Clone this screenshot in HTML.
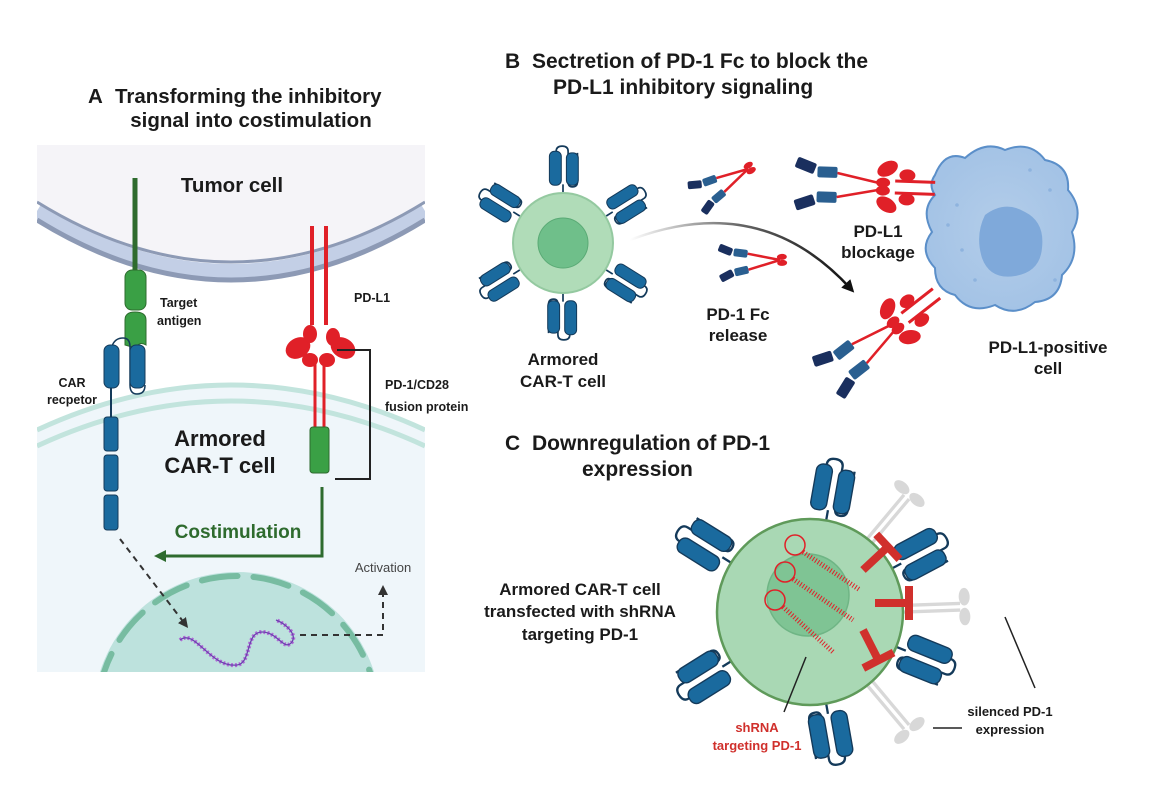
<!DOCTYPE html>
<html><head><meta charset="utf-8"><style>
html,body{margin:0;padding:0;background:#fff;overflow:hidden;width:1154px;height:787px}
svg{display:block}
text{font-family:"Liberation Sans",Arial,sans-serif;font-weight:bold;fill:#1a1a1a}
</style></head><body>
<svg width="1154" height="787" viewBox="0 0 1154 787" xmlns="http://www.w3.org/2000/svg">
<defs>
<clipPath id="clipA"><rect x="37" y="145" width="388" height="527"/></clipPath>
<g id="car">
  <line x1="0" y1="0" x2="0" y2="-9" stroke="#143a5a" stroke-width="2"/>
  <path d="M-8,-9 L-8,-48 Q-8,-54 -1,-54 Q6,-54 6,-48 L6,-12 Q6,-6 11,-6 Q17,-6 17,-12 L17,-46" fill="none" stroke="#143a5a" stroke-width="2"/>
  <rect x="-16" y="-48" width="14" height="40" rx="6" fill="#1a6a9e" stroke="#143a5a" stroke-width="1.2"/>
  <rect x="4" y="-46" width="14" height="38" rx="6" fill="#1a6a9e" stroke="#143a5a" stroke-width="1.2"/>
</g>
<g id="pd1g" fill="#d8d8d8" stroke="#d8d8d8">
  <line x1="-3" y1="0" x2="-3" y2="-52" stroke-width="3"/>
  <line x1="3" y1="0" x2="3" y2="-52" stroke-width="3"/>
  <ellipse cx="-9" cy="-56" rx="8" ry="5" stroke="none"/>
  <ellipse cx="9" cy="-56" rx="8" ry="5" stroke="none"/>
</g>
<g id="tbar" fill="#d0302c">
  <rect x="-4" y="-32" width="8" height="32"/>
  <rect x="-17" y="-38" width="34" height="8"/>
</g>
<g id="fc">
  <line x1="0" y1="0" x2="-32" y2="-8" stroke="#e02028" stroke-width="2.5"/>
  <line x1="0" y1="0" x2="-32" y2="8" stroke="#e02028" stroke-width="2.5"/>
  <ellipse cx="2" cy="-3" rx="5" ry="3" fill="#e02028"/>
  <ellipse cx="2" cy="3" rx="5" ry="3" fill="#e02028"/>
  <rect x="-46" y="-13" width="14" height="8" rx="2" fill="#2a5f90" transform="rotate(10 -39 -9)"/>
  <rect x="-46" y="5" width="14" height="8" rx="2" fill="#2a5f90" transform="rotate(-10 -39 9)"/>
  <rect x="-61" y="-17" width="14" height="8" rx="2" fill="#1a2f5e" transform="rotate(25 -54 -13)"/>
  <rect x="-61" y="9" width="14" height="8" rx="2" fill="#1a2f5e" transform="rotate(-25 -54 13)"/>
</g>
<g id="blk">
  <line x1="0" y1="-6" x2="40" y2="-6" stroke="#e02028" stroke-width="3"/>
  <line x1="0" y1="6" x2="40" y2="6" stroke="#e02028" stroke-width="3"/>
  <ellipse cx="-8" cy="-18" rx="11" ry="7" fill="#e02028" transform="rotate(-30 -8 -18)"/>
  <ellipse cx="-8" cy="18" rx="11" ry="7" fill="#e02028" transform="rotate(30 -8 18)"/>
  <ellipse cx="12" cy="-12" rx="8" ry="6" fill="#e02028"/>
  <ellipse cx="12" cy="12" rx="8" ry="6" fill="#e02028"/>
  <ellipse cx="-12" cy="-4" rx="7" ry="5" fill="#e02028"/>
  <ellipse cx="-12" cy="4" rx="7" ry="5" fill="#e02028"/>
  <line x1="-14" y1="-3" x2="-58" y2="-12" stroke="#e02028" stroke-width="2.5"/>
  <line x1="-14" y1="3" x2="-58" y2="12" stroke="#e02028" stroke-width="2.5"/>
  <rect x="-78" y="-18" width="20" height="11" rx="2" fill="#2a5f90"/>
  <rect x="-78" y="7" width="20" height="11" rx="2" fill="#2a5f90"/>
  <rect x="-100" y="-24" width="20" height="11" rx="2" fill="#1a2f5e" transform="rotate(20 -90 -18)"/>
  <rect x="-100" y="13" width="20" height="11" rx="2" fill="#1a2f5e" transform="rotate(-20 -90 18)"/>
</g>
<marker id="ah" viewBox="0 0 10 10" refX="5" refY="5" markerWidth="5" markerHeight="5" orient="auto"><path d="M0,0 L10,5 L0,10 z" fill="#333"/></marker>
<marker id="ahg" viewBox="0 0 10 10" refX="5" refY="5" markerWidth="4" markerHeight="4" orient="auto"><path d="M0,0 L10,5 L0,10 z" fill="#2e6b2e"/></marker>
<marker id="ahk" viewBox="0 0 10 10" refX="5" refY="5" markerWidth="5" markerHeight="5" orient="auto"><path d="M0,0 L10,5 L0,10 z" fill="#111"/></marker>
<linearGradient id="arrg" x1="0" x2="1"><stop offset="0" stop-color="#fff"/><stop offset="0.5" stop-color="#666"/><stop offset="1" stop-color="#111"/></linearGradient>
<radialGradient id="blobg"><stop offset="0" stop-color="#b3cde9"/><stop offset="1" stop-color="#a4c3e6"/></radialGradient>
</defs>

<!-- Panel A -->
<text x="88" y="103" font-size="20.5">A</text>
<text x="115" y="103" font-size="20.5">Transforming the inhibitory</text>
<text x="251" y="127" font-size="20.5" text-anchor="middle">signal into costimulation</text>
<g clip-path="url(#clipA)">
  <rect x="37" y="145" width="388" height="527" fill="#f5f4f8"/>
  <path d="M37,202 Q231,322 425,202 L425,700 L37,700 z" fill="#ffffff"/>
  <path d="M37,211 Q231,331 425,211" fill="none" stroke="#c3cfe6" stroke-width="14"/>
  <path d="M37,202 Q231,322 425,202" fill="none" stroke="#8d9ab5" stroke-width="3"/>
  <path d="M37,220 Q231,340 425,220" fill="none" stroke="#8d9ab5" stroke-width="5"/>
  <path d="M37,430 Q231,340 425,430 L425,700 L37,700 z" fill="#eff6fa"/>
  <path d="M37,430 Q231,340 425,430" fill="none" stroke="#c2e4dd" stroke-width="5"/>
  <path d="M37,446 Q231,356 425,446" fill="none" stroke="#c2e4dd" stroke-width="5"/>
  <circle cx="237" cy="716" r="144" fill="#bde2dd"/>
  <circle cx="237" cy="716" r="140" fill="none" stroke="#6fb89a" stroke-width="6" stroke-dasharray="36 16" stroke-linecap="round" opacity="0.9"/>
</g>
<text x="232" y="192" font-size="20.5" text-anchor="middle">Tumor cell</text>
<!-- antigen -->
<line x1="135" y1="178" x2="135" y2="270" stroke="#2e6b2e" stroke-width="5"/>
<rect x="125" y="270" width="21" height="40" rx="7" fill="#3aa045" stroke="#2e6b2e" stroke-width="1"/>
<path d="M125,345 L125,320 Q125,312 135,312 Q146,312 146,320 L146,345 Q139,341 136,348 Z" fill="#3aa045" stroke="#2e6b2e" stroke-width="1"/>
<!-- CAR A -->
<path d="M112,346 Q115,338 123,338 Q130,338 130,347 L130,385 Q130,394 137,394 Q145,394 145,385" fill="none" stroke="#143a5a" stroke-width="1.5"/>
<rect x="104" y="345" width="15" height="43" rx="6" fill="#1a6a9e" stroke="#143a5a"/>
<rect x="130" y="345" width="15" height="43" rx="6" fill="#1a6a9e" stroke="#143a5a"/>
<line x1="111" y1="388" x2="111" y2="417" stroke="#143a5a" stroke-width="2"/>
<rect x="104" y="417" width="14" height="34" rx="3" fill="#1a6a9e" stroke="#143a5a"/>
<rect x="104" y="455" width="14" height="36" rx="3" fill="#1a6a9e" stroke="#143a5a"/>
<rect x="104" y="495" width="14" height="35" rx="3" fill="#1a6a9e" stroke="#143a5a"/>
<text x="160" y="307" font-size="12.5">Target</text>
<text x="157" y="325" font-size="12.5">antigen</text>
<text x="72" y="387" font-size="12.5" text-anchor="middle">CAR</text>
<text x="72" y="404" font-size="12.5" text-anchor="middle">recpetor</text>
<!-- PD-L1 -->
<line x1="312" y1="226" x2="312" y2="325" stroke="#e02028" stroke-width="4"/>
<line x1="326" y1="226" x2="326" y2="325" stroke="#e02028" stroke-width="4"/>
<ellipse cx="298" cy="348" rx="13" ry="10" fill="#e02028" transform="rotate(-30 298 348)"/>
<ellipse cx="343" cy="348" rx="13" ry="10" fill="#e02028" transform="rotate(30 343 348)"/>
<ellipse cx="310" cy="334" rx="7" ry="9" fill="#e02028"/>
<ellipse cx="333" cy="337" rx="7" ry="9" fill="#e02028"/>
<ellipse cx="310" cy="360" rx="8" ry="7" fill="#e02028"/>
<ellipse cx="327" cy="360" rx="8" ry="7" fill="#e02028"/>
<line x1="315" y1="362" x2="315" y2="427" stroke="#e02028" stroke-width="3"/>
<line x1="324" y1="362" x2="324" y2="427" stroke="#e02028" stroke-width="3"/>
<rect x="310" y="427" width="19" height="46" rx="3" fill="#3aa045" stroke="#2e6b2e"/>
<polyline points="337,350 370,350 370,479 335,479" fill="none" stroke="#222" stroke-width="2"/>
<text x="354" y="302" font-size="12.5">PD-L1</text>
<text x="385" y="389" font-size="12.5">PD-1/CD28</text>
<text x="385" y="411" font-size="12.5">fusion protein</text>
<text x="220" y="446" font-size="22" text-anchor="middle">Armored</text>
<text x="220" y="473" font-size="22" text-anchor="middle">CAR-T cell</text>
<polyline points="322,487 322,556 160,556" fill="none" stroke="#2e6b2e" stroke-width="3" marker-end="url(#ahg)"/>
<text x="238" y="538" font-size="19" text-anchor="middle" style="fill:#2e6b2e">Costimulation</text>
<line x1="120" y1="539" x2="185" y2="624" stroke="#333" stroke-width="2" stroke-dasharray="6 5" marker-end="url(#ah)"/>
<path d="M180,640 C195,628 210,668 237,665 C252,663 245,632 262,632 C278,632 284,652 292,642 C297,634 286,624 276,620" fill="none" stroke="#b06ad6" stroke-width="4" stroke-dasharray="2 2"/>
<path d="M180,640 C195,628 210,668 237,665 C252,663 245,632 262,632 C278,632 284,652 292,642 C297,634 286,624 276,620" fill="none" stroke="#6d3fb0" stroke-width="1.3"/>
<polyline points="300,635 383,635 383,590" fill="none" stroke="#333" stroke-width="2" stroke-dasharray="6 5" marker-end="url(#ah)"/>
<text x="383" y="572" font-size="13" text-anchor="middle" style="font-weight:normal;fill:#444">Activation</text>

<!-- Panel B -->
<text x="505" y="68" font-size="21">B</text>
<text x="532" y="68" font-size="21">Sectretion of PD-1 Fc to block the</text>
<text x="553" y="94" font-size="21">PD-L1 inhibitory signaling</text>
<g>
  <use href="#car" transform="translate(563,243) rotate(0) translate(0,-51) scale(0.85)"/>
  <use href="#car" transform="translate(563,243) rotate(58) translate(0,-51) scale(0.85)"/>
  <use href="#car" transform="translate(563,243) rotate(122) translate(0,-51) scale(0.85)"/>
  <use href="#car" transform="translate(563,243) rotate(180) translate(0,-51) scale(0.85)"/>
  <use href="#car" transform="translate(563,243) rotate(238) translate(0,-51) scale(0.85)"/>
  <use href="#car" transform="translate(563,243) rotate(302) translate(0,-51) scale(0.85)"/>
</g>
<circle cx="563" cy="243" r="50" fill="#b0dcb8" stroke="#94c9a0" stroke-width="2"/>
<circle cx="563" cy="243" r="25" fill="#6fbf8a" stroke="#5aaa75"/>
<text x="563" y="365" font-size="17" text-anchor="middle">Armored</text>
<text x="563" y="387" font-size="17" text-anchor="middle">CAR-T cell</text>
<path d="M630,240 Q760,190 850,288" fill="none" stroke="url(#arrg)" stroke-width="2.5" marker-end="url(#ahk)"/>
<use href="#fc" transform="translate(748,169) rotate(-30)"/>
<use href="#fc" transform="translate(780,260) rotate(-3)"/>
<text x="738" y="320" font-size="17" text-anchor="middle">PD-1 Fc</text>
<text x="738" y="341" font-size="17" text-anchor="middle">release</text>
<!-- PD-L1 positive cell -->
<path d="M935,175 Q945,150 965,158 Q985,140 1005,150 Q1030,140 1045,160 Q1070,165 1068,190 Q1085,210 1072,232 Q1080,258 1062,275 Q1060,300 1035,302 Q1015,318 995,305 Q970,315 955,295 Q935,290 935,268 Q918,250 932,232 Q920,210 935,195 Q928,185 935,175 Z" fill="url(#blobg)" stroke="#5b8fc9" stroke-width="2"/>
<path d="M985,215 Q1005,200 1025,212 Q1045,222 1042,248 Q1040,272 1015,276 Q990,280 982,258 Q975,235 985,215 Z" fill="#7fa9da"/>
<g fill="#8eb3de"><circle cx="957" cy="205" r="1.8"/><circle cx="948" cy="225" r="1.8"/><circle cx="962" cy="250" r="1.8"/><circle cx="975" cy="280" r="1.8"/><circle cx="1050" cy="190" r="1.8"/><circle cx="1055" cy="280" r="1.8"/><circle cx="1030" cy="170" r="1.8"/></g>
<use href="#blk" transform="translate(895,187) rotate(2)"/>
<use href="#blk" transform="translate(905,318) rotate(-38)"/>
<text x="878" y="237" font-size="17" text-anchor="middle">PD-L1</text>
<text x="878" y="258" font-size="17" text-anchor="middle">blockage</text>
<text x="1048" y="353" font-size="17" text-anchor="middle">PD-L1-positive</text>
<text x="1048" y="374" font-size="17" text-anchor="middle">cell</text>

<!-- Panel C -->
<text x="505" y="450" font-size="21">C</text>
<text x="532" y="450" font-size="21">Downregulation of PD-1</text>
<text x="582" y="476" font-size="21">expression</text>
<text x="580" y="595" font-size="17" text-anchor="middle">Armored CAR-T cell</text>
<text x="580" y="617" font-size="17" text-anchor="middle">transfected with shRNA</text>
<text x="580" y="640" font-size="17" text-anchor="middle">targeting PD-1</text>
<g>
  <use href="#pd1g" transform="translate(810,612) rotate(40) translate(0,-93) scale(1.1)"/>
  <use href="#pd1g" transform="translate(810,612) rotate(88) translate(0,-93) scale(1.1)"/>
  <use href="#pd1g" transform="translate(810,612) rotate(140) translate(0,-93) scale(1.1)"/>
  <use href="#car" transform="translate(810,612) rotate(10) translate(0,-93) scale(1.15)"/>
  <use href="#car" transform="translate(810,612) rotate(62) translate(0,-93) scale(1.15)"/>
  <use href="#car" transform="translate(810,612) rotate(112) translate(0,-93) scale(1.15)"/>
  <use href="#car" transform="translate(810,612) rotate(170) translate(0,-93) scale(1.15)"/>
  <use href="#car" transform="translate(810,612) rotate(238) translate(0,-93) scale(1.15)"/>
  <use href="#car" transform="translate(810,612) rotate(302) translate(0,-93) scale(1.15)"/>
</g>
<circle cx="810" cy="612" r="93" fill="#a9d8b4" stroke="#5f9a5a" stroke-width="2.5"/>
<circle cx="808" cy="595" r="41" fill="#7fc494" stroke="#6fb585" stroke-width="1.5"/>
<g fill="none" stroke="#e02028" stroke-width="1.5">
  <circle cx="795" cy="545" r="10"/><circle cx="785" cy="572" r="10"/><circle cx="775" cy="600" r="10"/>
</g>
<g stroke="#e02028" stroke-width="5" stroke-dasharray="1 2" fill="none">
  <line x1="803" y1="552" x2="860" y2="590"/>
  <line x1="793" y1="579" x2="853" y2="620"/>
  <line x1="783" y1="607" x2="833" y2="652"/>
</g>
<use href="#tbar" transform="translate(863,570) rotate(47)"/>
<use href="#tbar" transform="translate(875,603) rotate(90)"/>
<use href="#tbar" transform="translate(863,630) rotate(153)"/>
<line x1="806" y1="657" x2="784" y2="712" stroke="#222" stroke-width="1.5"/>
<line x1="1005" y1="617" x2="1035" y2="688" stroke="#222" stroke-width="1.5"/>
<line x1="933" y1="728" x2="962" y2="728" stroke="#222" stroke-width="1.5"/>
<text x="757" y="732" font-size="13" text-anchor="middle" style="fill:#d0302c">shRNA</text>
<text x="757" y="750" font-size="13" text-anchor="middle" style="fill:#d0302c">targeting PD-1</text>
<text x="1010" y="716" font-size="13" text-anchor="middle">silenced PD-1</text>
<text x="1010" y="734" font-size="13" text-anchor="middle">expression</text>
</svg>
</body></html>
